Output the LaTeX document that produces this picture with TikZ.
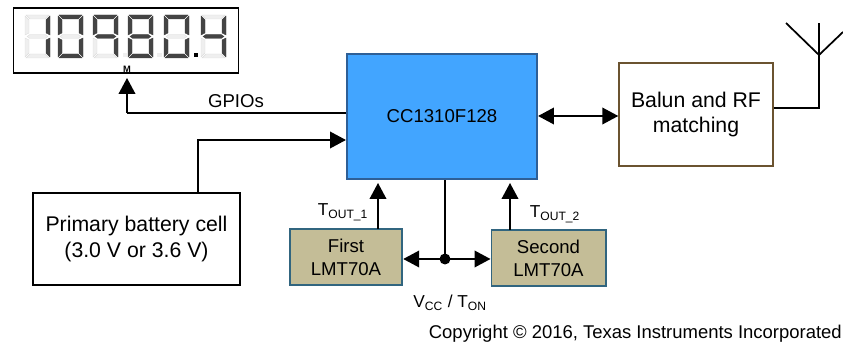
\documentclass[tikz,border=0pt]{standalone}
\usepackage{fontspec}
\setmainfont{Liberation Sans}
\usetikzlibrary{arrows.meta}
\definecolor{chipblue}{HTML}{42A5FF}
\definecolor{chipedge}{HTML}{2E5F96}
\definecolor{sensorfill}{HTML}{C4BD97}
\definecolor{sensoredge}{HTML}{31657F}
\definecolor{balunedge}{HTML}{6B5330}
\definecolor{segon}{HTML}{444444}
\definecolor{segoff}{HTML}{EFEFEF}
\tikzset{
  block/.style={draw, line width=1.5pt, align=center, font=\fontsize{16}{19.5}\selectfont},
  sensor/.style={block, draw=sensoredge, fill=sensorfill, line width=1.4pt, font=\fontsize{14}{17.5}\selectfont},
  wire/.style={line width=1.3pt},
  link/.style={wire, -{Triangle[length=12pt,width=12.5pt]}},
  biglink/.style={wire, {Triangle[length=12pt,width=12.5pt]}-{Triangle[length=12pt,width=12.5pt]}},
  tag/.style={font=\fontsize{13}{16}\selectfont, inner sep=0pt},
  seg/.style={fill=#1, draw=#1!92!black, line width=0.3pt},
}
% one seven-segment digit: x offset, then the colour of segments a..g
\newcommand{\digit}[8]{
  \draw[seg=#2] (#1+1,15) -- (#1+24,15) -- (#1+20,19) -- (#1+5,19) -- cycle;
  \draw[seg=#3] (#1+25,16) -- (#1+25,35) -- (#1+21,33) -- (#1+21,20) -- cycle;
  \draw[seg=#4] (#1+25,38) -- (#1+25,57) -- (#1+21,53) -- (#1+21,40) -- cycle;
  \draw[seg=#5] (#1+1,58) -- (#1+24,58) -- (#1+20,54) -- (#1+5,54) -- cycle;
  \draw[seg=#6] (#1,38) -- (#1,57) -- (#1+4,53) -- (#1+4,40) -- cycle;
  \draw[seg=#7] (#1,16) -- (#1,35) -- (#1+4,33) -- (#1+4,20) -- cycle;
  \draw[seg=#8] (#1+2,36.5) -- (#1+5,34.5) -- (#1+20,34.5) -- (#1+23,36.5) -- (#1+20,38.5) -- (#1+5,38.5) -- cycle;
}
\begin{document}
\begin{tikzpicture}[x=0.02646cm, y=-0.02646cm]
\useasboundingbox (0,0) rectangle (843,345);

% Display
\node[draw, line width=1.4pt, inner sep=0pt, minimum width=5.95cm, minimum height=1.74cm] (display) at (126,40.5) {};
\digit{25}{segoff}{segon}{segon}{segoff}{segoff}{segoff}{segoff}
\digit{58}{segon}{segon}{segon}{segon}{segon}{segon}{segoff}
\digit{93}{segon}{segon}{segon}{segoff}{segoff}{segon}{segon}
\digit{128}{segon}{segon}{segon}{segon}{segon}{segon}{segon}
\digit{164}{segon}{segon}{segon}{segon}{segon}{segon}{segoff}
\digit{201}{segoff}{segon}{segon}{segoff}{segoff}{segon}{segon}
\fill[segoff] (122.5,53) rectangle (127,57.5);
\fill[segoff] (157,53) rectangle (161.5,57.5);
\fill[black] (193.5,53) rectangle (198,57.5);
\node[font=\fontsize{7}{7}\selectfont\bfseries, inner sep=0pt] (mark) at (127,69) {M};

% Blocks
\node[block, draw=chipedge, fill=chipblue, minimum width=5.03cm, minimum height=3.33cm, font=\fontsize{14}{17}\selectfont] (mcu) at (442,116.5) {CC1310F128};
\node[block, draw=balunedge, minimum width=4.06cm, minimum height=2.7cm] (balun) at (696,114.5) {Balun and RF\\matching};
\node[block, draw=black, minimum width=5.48cm, minimum height=2.46cm] (battery) at (136.5,239) {Primary battery cell\\(3.0 V or 3.6 V)};
\node[sensor, minimum width=2.98cm, minimum height=1.5cm] (first) at (346,257) {First\\LMT70A};
\node[sensor, minimum width=3.02cm, minimum height=1.5cm] (second) at (548.5,258) {Second\\LMT70A};

% Connectors
\coordinate (gpioin) at (mcu.west |- 0,113);
\coordinate (gpiobend) at (127,113);
\draw[wire] (gpioin) -- (gpiobend);
\draw[link] (gpiobend) -- (127,78);
\node[tag, font=\fontsize{14}{16}\selectfont] (gpios) at (236,101) {GPIOs};
\coordinate (batbend) at (198,140);
\draw[link] (battery.north -| batbend) -- (batbend) -- (mcu.west |- batbend);
\draw[biglink] (mcu.east |- 0,116) -- (balun.west |- 0,116);

\coordinate (feed) at (445,259);
\fill (feed) circle (5.5);
\draw[wire] (mcu.south -| feed) -- (feed);
\draw[biglink] (first.east |- feed) -- (second.west |- feed);
\draw[link] (378,229) -- (378,183);
\draw[link] (510,230) -- (510,183);
\node[tag] (tout1) at (343,212) {T\textsubscript{OUT\_1}};
\node[tag] (tout2) at (555,214) {T\textsubscript{OUT\_2}};
\node[tag] (vcc) at (450,303) {V\textsubscript{CC} / T\textsubscript{ON}};

% Antenna
\coordinate (tip) at (819,55);
\draw[wire] (balun.east |- 0,108) -- (819,108) -- (819,23);
\draw[wire] (786,23) -- (tip) -- (843,32);

\node[tag, anchor=east, font=\fontsize{13.9}{16}\selectfont] (copyright) at (842,334) {Copyright © 2016, Texas Instruments Incorporated};
\end{tikzpicture}
\end{document}
